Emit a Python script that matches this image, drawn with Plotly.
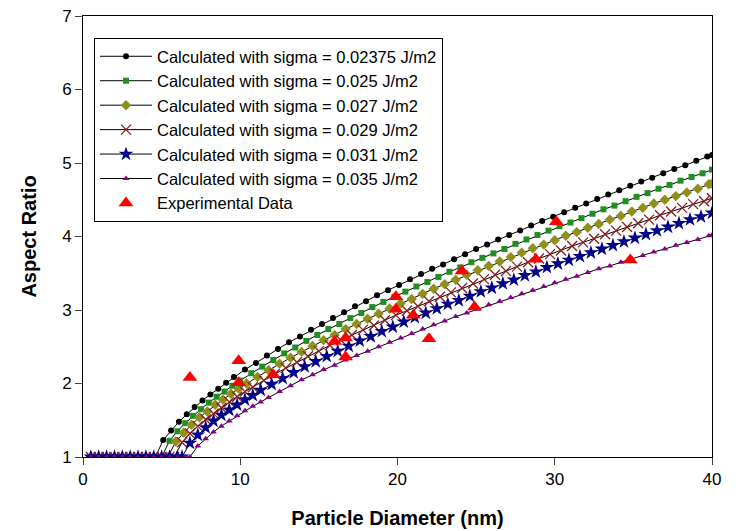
import plotly.graph_objects as go

# ---- data ----
black_x = [0.5, 1.0, 1.5, 2.0, 2.5, 3.0, 3.5, 4.0, 4.5, 4.6, 5.1, 5.6, 6.1, 6.6, 7.1, 7.6, 8.1, 8.6, 9.1, 9.6,
           10.3, 11.0, 11.7, 12.4, 13.1, 13.8, 14.5, 15.2, 15.9, 16.6, 17.3, 18.0, 18.7, 19.4, 20.1, 20.8, 21.5,
           22.2, 22.9, 23.6, 24.3, 25.0, 25.7, 26.4, 27.1, 27.8, 28.5, 29.2, 29.9, 30.6, 31.3, 32.0, 32.7, 33.4,
           34.1, 34.8, 35.5, 36.2, 36.9, 37.6, 38.3, 39.0, 39.7, 40.0]
black_y = [1.0, 1.0, 1.0, 1.0, 1.0, 1.0, 1.0, 1.0, 1.0, 1.0,
           1.23, 1.36, 1.48, 1.58, 1.68, 1.77, 1.85, 1.93, 2.01, 2.09,
           2.19, 2.28, 2.38, 2.47, 2.56, 2.64, 2.73, 2.81, 2.89, 2.97,
           3.05, 3.12, 3.20, 3.27, 3.34, 3.42, 3.49, 3.56, 3.62, 3.69,
           3.76, 3.83, 3.89, 3.96, 4.02, 4.08, 4.15, 4.21, 4.27, 4.33,
           4.39, 4.45, 4.51, 4.57, 4.63, 4.69, 4.75, 4.80, 4.86, 4.92,
           4.97, 5.03, 5.09, 5.11]

green_x = [0.5, 1.0, 1.5, 2.0, 2.5, 3.0, 3.5, 4.0, 4.5, 5.0, 5.5, 6.0, 6.5, 7.0, 7.5, 8.0, 8.5, 9.0, 9.5, 10.0,
           10.7, 11.4, 12.1, 12.8, 13.5, 14.2, 14.9, 15.6, 16.3, 17.0, 17.7, 18.4, 19.1, 19.8, 20.5, 21.2, 21.9,
           22.6, 23.3, 24.0, 24.7, 25.4, 26.1, 26.8, 27.5, 28.2, 28.9, 29.6, 30.3, 31.0, 31.7, 32.4, 33.1, 33.8,
           34.5, 35.2, 35.9, 36.6, 37.3, 38.0, 38.7, 39.4, 40.0]
green_y = [1.0, 1.0, 1.0, 1.0, 1.0, 1.0, 1.0, 1.0, 1.0, 1.0,
           1.22, 1.35, 1.46, 1.56, 1.65, 1.74, 1.82, 1.89, 1.97, 2.04,
           2.14, 2.23, 2.32, 2.41, 2.49, 2.58, 2.66, 2.74, 2.81, 2.89,
           2.96, 3.04, 3.11, 3.18, 3.25, 3.32, 3.38, 3.45, 3.52, 3.58,
           3.65, 3.71, 3.77, 3.83, 3.90, 3.96, 4.02, 4.08, 4.14, 4.19,
           4.25, 4.31, 4.37, 4.42, 4.48, 4.54, 4.59, 4.65, 4.70, 4.76,
           4.81, 4.86, 4.91]

olive_x = [0.5, 1.0, 1.5, 2.0, 2.5, 3.0, 3.5, 4.0, 4.5, 5.0, 5.4, 5.9, 6.4, 6.9, 7.4, 7.9, 8.4, 8.9, 9.4, 9.9,
           10.4, 11.1, 11.8, 12.5, 13.2, 13.9, 14.6, 15.3, 16.0, 16.7, 17.4, 18.1, 18.8, 19.5, 20.2, 20.9, 21.6,
           22.3, 23.0, 23.7, 24.4, 25.1, 25.8, 26.5, 27.2, 27.9, 28.6, 29.3, 30.0, 30.7, 31.4, 32.1, 32.8, 33.5,
           34.2, 34.9, 35.6, 36.3, 37.0, 37.7, 38.4, 39.1, 39.8, 40.0]
olive_y = [1.0, 1.0, 1.0, 1.0, 1.0, 1.0, 1.0, 1.0, 1.0, 1.0, 1.0,
           1.21, 1.33, 1.44, 1.54, 1.62, 1.71, 1.78, 1.86, 1.93, 2.00,
           2.09, 2.18, 2.27, 2.35, 2.43, 2.51, 2.59, 2.66, 2.74, 2.81,
           2.88, 2.95, 3.02, 3.09, 3.15, 3.22, 3.29, 3.35, 3.41, 3.48,
           3.54, 3.60, 3.66, 3.72, 3.78, 3.84, 3.89, 3.95, 4.01, 4.06,
           4.12, 4.17, 4.23, 4.28, 4.34, 4.39, 4.45, 4.50, 4.55, 4.60,
           4.65, 4.71, 4.72]

brown_x = [0.5, 1.0, 1.5, 2.0, 2.5, 3.0, 3.5, 4.0, 4.5, 5.0, 5.5, 5.8, 6.3, 6.8, 7.3, 7.8, 8.3, 8.8, 9.3, 9.8,
           10.3, 10.8, 11.5, 12.2, 12.9, 13.6, 14.3, 15.0, 15.7, 16.4, 17.1, 17.8, 18.5, 19.2, 19.9, 20.6, 21.3,
           22.0, 22.7, 23.4, 24.1, 24.8, 25.5, 26.2, 26.9, 27.6, 28.3, 29.0, 29.7, 30.4, 31.1, 31.8, 32.5, 33.2,
           33.9, 34.6, 35.3, 36.0, 36.7, 37.4, 38.1, 38.8, 39.5, 40.0]
brown_y = [1.0, 1.0, 1.0, 1.0, 1.0, 1.0, 1.0, 1.0, 1.0, 1.0, 1.0, 1.0,
           1.20, 1.32, 1.42, 1.51, 1.59, 1.67, 1.75, 1.82, 1.89, 1.95,
           2.04, 2.13, 2.21, 2.29, 2.37, 2.44, 2.52, 2.59, 2.66, 2.73,
           2.79, 2.86, 2.93, 2.99, 3.05, 3.12, 3.18, 3.24, 3.30, 3.36,
           3.42, 3.48, 3.53, 3.59, 3.65, 3.70, 3.76, 3.81, 3.87, 3.92,
           3.97, 4.03, 4.08, 4.13, 4.18, 4.23, 4.29, 4.34, 4.39, 4.44,
           4.48, 4.52]

blue_x = [0.5, 1.0, 1.5, 2.0, 2.5, 3.0, 3.5, 4.0, 4.5, 5.0, 5.5, 6.0, 6.3, 6.8, 7.3, 7.8, 8.3, 8.8, 9.3, 9.8,
          10.3, 10.8, 11.3, 12.0, 12.7, 13.4, 14.1, 14.8, 15.5, 16.2, 16.9, 17.6, 18.3, 19.0, 19.7, 20.4, 21.1,
          21.8, 22.5, 23.2, 23.9, 24.6, 25.3, 26.0, 26.7, 27.4, 28.1, 28.8, 29.5, 30.2, 30.9, 31.6, 32.3, 33.0,
          33.7, 34.4, 35.1, 35.8, 36.5, 37.2, 37.9, 38.6, 39.3, 40.0]
blue_y = [1.0, 1.0, 1.0, 1.0, 1.0, 1.0, 1.0, 1.0, 1.0, 1.0, 1.0, 1.0, 1.0,
          1.19, 1.30, 1.40, 1.49, 1.57, 1.64, 1.71, 1.78, 1.84, 1.91,
          1.99, 2.07, 2.15, 2.23, 2.30, 2.37, 2.44, 2.51, 2.58, 2.64,
          2.71, 2.77, 2.84, 2.90, 2.96, 3.02, 3.08, 3.13, 3.19, 3.25,
          3.30, 3.36, 3.41, 3.47, 3.52, 3.58, 3.63, 3.68, 3.73, 3.78,
          3.83, 3.88, 3.93, 3.98, 4.03, 4.08, 4.13, 4.18, 4.23, 4.27,
          4.32]

purple_x = [0.5, 1.0, 1.5, 2.0, 2.5, 3.0, 3.5, 4.0, 4.5, 5.0, 5.5, 6.0, 6.5, 6.8, 7.3, 7.8, 8.3, 8.8, 9.3, 9.8,
            10.3, 10.8, 11.3, 11.8, 12.5, 13.2, 13.9, 14.6, 15.3, 16.0, 16.7, 17.4, 18.1, 18.8, 19.5, 20.2, 20.9,
            21.6, 22.3, 23.0, 23.7, 24.4, 25.1, 25.8, 26.5, 27.2, 27.9, 28.6, 29.3, 30.0, 30.7, 31.4, 32.1, 32.8,
            33.5, 34.2, 34.9, 35.6, 36.3, 37.0, 37.7, 38.4, 39.1, 39.8, 40.0]
purple_y = [1.0, 1.0, 1.0, 1.0, 1.0, 1.0, 1.0, 1.0, 1.0, 1.0, 1.0, 1.0, 1.0, 1.0,
            1.15, 1.25, 1.34, 1.42, 1.49, 1.56, 1.63, 1.69, 1.75, 1.81,
            1.89, 1.97, 2.05, 2.12, 2.19, 2.25, 2.32, 2.38, 2.44, 2.50,
            2.56, 2.62, 2.68, 2.74, 2.80, 2.85, 2.91, 2.96, 3.01, 3.07,
            3.12, 3.17, 3.22, 3.27, 3.32, 3.37, 3.42, 3.46, 3.51, 3.56,
            3.60, 3.65, 3.70, 3.74, 3.79, 3.83, 3.88, 3.92, 3.96, 4.01,
            4.02]

exp_x = [6.8, 9.9, 9.9, 12.1, 16.0, 16.7, 16.7, 19.9, 19.9, 21.0, 22.0, 24.1, 24.9, 28.8, 30.1, 34.8]
exp_y = [2.08, 2.31, 2.01, 2.12, 2.57, 2.62, 2.36, 3.18, 3.01, 2.93, 2.61, 3.53, 3.04, 3.69, 4.20, 3.68]

names = ["Calculated with sigma = 0.02375 J/m2",
         "Calculated with sigma = 0.025 J/m2",
         "Calculated with sigma = 0.027 J/m2",
         "Calculated with sigma = 0.029 J/m2",
         "Calculated with sigma = 0.031 J/m2",
         "Calculated with sigma = 0.035 J/m2",
         "Experimental Data"]

x_ticks = [0, 10, 20, 30, 40]
y_ticks = [1, 2, 3, 4, 5, 6, 7]

FONT = "Liberation Sans, Arial, sans-serif"

series = [
    (black_x, black_y, dict(symbol="circle", size=6, color="#000000")),
    (green_x, green_y, dict(symbol="square", size=6, color="#1f8f1f")),
    (olive_x, olive_y, dict(symbol="diamond", size=8, color="#8f8f1a")),
    (brown_x, brown_y, dict(symbol="x-thin", size=10, color="#8b1c1c",
                            line=dict(color="#8b1c1c", width=1.3))),
    (blue_x, blue_y, dict(symbol="star", size=11, color="#00008b")),
    (purple_x, purple_y, dict(symbol="triangle-up", size=6, color="#850085")),
]

fig = go.Figure()
for (xs, ys, mk), nm in zip(series, names[:6]):
    if "line" not in mk:
        mk = dict(mk, line=dict(width=0))
    fig.add_trace(go.Scatter(x=xs, y=ys, mode="lines+markers", name=nm,
                             line=dict(color="#000000", width=1), marker=mk))

fig.add_trace(go.Scatter(x=exp_x, y=exp_y, mode="markers", name=names[6],
                         marker=dict(symbol="triangle-up", size=13, color="#ff0000",
                                     line=dict(width=0))))

fig.update_layout(
    width=738, height=531,
    margin=dict(l=83, r=26, t=16, b=74, autoexpand=False),
    paper_bgcolor="white", plot_bgcolor="white",
    font=dict(family=FONT, color="#000000", size=17),
    showlegend=True,
    legend=dict(x=0.0175, y=0.95, xanchor="left", yanchor="top",
                bordercolor="#000000", borderwidth=1, bgcolor="white",
                font=dict(family=FONT, size=16.5, color="#000000"),
                tracegroupgap=0, itemwidth=52),
)
fig.update_xaxes(range=[0, 40], tickvals=x_ticks, ticks="outside", ticklen=7,
                 showline=True, linecolor="#000000", linewidth=1, mirror=True,
                 showgrid=False, zeroline=False, automargin=False,
                 tickfont=dict(family=FONT, size=17),
                 title=dict(text="<b>Particle Diameter (nm)</b>",
                            font=dict(family=FONT, size=20), standoff=22))
fig.update_yaxes(range=[1, 7], tickvals=y_ticks, ticks="outside", ticklen=7,
                 showline=True, linecolor="#000000", linewidth=1, mirror=True,
                 showgrid=False, zeroline=False, automargin=False,
                 tickfont=dict(family=FONT, size=17),
                 title=dict(text="<b>Aspect Ratio</b>",
                            font=dict(family=FONT, size=20), standoff=20))

fig.write_html("out.html")
